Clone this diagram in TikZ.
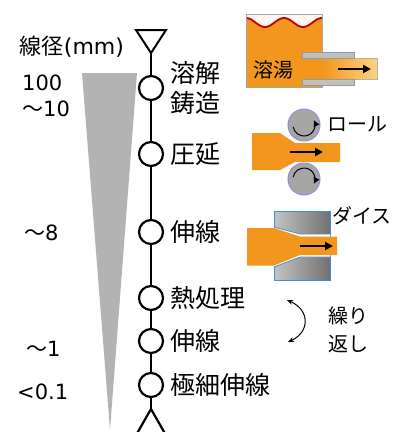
\documentclass[tikz,border=0pt]{standalone}
\usepackage{fontspec}
\setmainfont{DejaVu Sans}
\newfontfamily\cjk{Noto Sans CJK JP}
\usepackage{tikz}
\usetikzlibrary{arrows.meta, positioning, calc}
\tikzset{every node/.style={inner sep=1pt}}
\definecolor{melt}{HTML}{F2961E}
\definecolor{meltlight}{HTML}{FDD283}
\definecolor{wavered}{HTML}{C00000}
\definecolor{rollgray}{HTML}{A6A6A6}
\definecolor{rolledge}{HTML}{8F8FD6}
\definecolor{dieedge}{HTML}{3D8FD6}
\definecolor{dielight}{HTML}{C4C4C4}
\definecolor{diedark}{HTML}{717171}
\definecolor{wedgegray}{HTML}{B3B3B3}

\begin{document}
\begin{tikzpicture}[x=1pt, y=-1pt,
    mainline/.style={line width=2.2pt},
    stepdot/.style={circle, draw, line width=2.2pt, fill=white, minimum size=24pt, inner sep=0pt},
    steplabel/.style={font=\cjk\fontsize{25}{30}\selectfont, align=left},
    numlabel/.style={font=\fontsize{21}{26}\selectfont, align=left, anchor=west},
    smalltext/.style={font=\cjk\fontsize{20}{28}\selectfont, align=left},
    flow/.style={line width=2pt, -{Triangle[length=8pt, width=8pt]}},
    turn/.style={line width=1pt, -{Triangle[length=6pt, width=6pt]}},
    plate/.style={fill=gray!50, draw=gray!80, line width=0.6pt},
    roll/.style={circle, fill=rollgray, draw=rolledge, line width=1pt, minimum size=32pt, inner sep=0pt}]
  \useasboundingbox (0,0) rectangle (398,432);

  % diameter wedge
  \fill[wedgegray] (82,73) -- (137,73) -- (110,430) -- cycle;

  % process line
  \coordinate (apex) at (151,53);
  \draw[line width=2pt, line join=miter] (136,30) -- (166,30) -- (apex) -- cycle;
  \node[stepdot] (s1) at (151,88) {};
  \node[stepdot] (s2) at (151,154) {};
  \node[stepdot] (s3) at (151,232) {};
  \node[stepdot] (s4) at (151,298) {};
  \node[stepdot] (s5) at (151,341) {};
  \node[stepdot] (s6) at (151,385) {};
  \coordinate (split) at (151,409);
  \coordinate (legL) at (135,437);
  \coordinate (legR) at (167,437);
  \draw[mainline] (apex) -- (s1) -- (s2) -- (s3) -- (s4) -- (s5) -- (s6) -- (split);
  \draw[mainline] (legL) -- (split) -- (legR);

  \node[steplabel, right=5pt of s1] (l1) {溶解\\鋳造};
  \node[steplabel, right=5pt of s2] (l2) {圧延};
  \node[steplabel, right=5pt of s3] (l3) {伸線};
  \node[steplabel, right=5pt of s4] (l4) {熱処理};
  \node[steplabel, right=5pt of s5] (l5) {伸線};
  \node[steplabel, right=5pt of s6] (l6) {極細伸線};

  % diameters
  \node[font=\fontsize{22}{26}\selectfont] (dia) at (72,47) {{\cjk 線径}(mm)};
  \node[numlabel] (d1) at (21,96) {100\\{\cjk ～}10};
  \node[numlabel] (d2) at (23,233) {{\cjk ～}8};
  \node[numlabel] (d3) at (25,349) {{\cjk ～}1};
  \node[numlabel] (d4) at (16,392) {<0.1};

  % casting
  \fill[melt!8] (246,14) rectangle (322,28);
  \fill[melt] plot[domain=0:76, samples=60] ({246+\x}, {22.5-4.5*cos(\x*9.4737)})
    -- (322,87) -- (246,87) -- cycle;
  \draw[wavered, line width=1.8pt] plot[domain=0:76, samples=60] ({246+\x}, {22.5-4.5*cos(\x*9.4737)});
  \draw[gray!70, line width=0.8pt] (246,14) rectangle (322,87);
  \shade[left color=melt, right color=meltlight] (322,58) rectangle (377,79);
  \draw[gray!60, line width=0.6pt] (322,58) -- (377,58) -- (377,79) -- (322,79);
  \draw[plate] (302,52) rectangle (354,58);
  \draw[plate] (302,79) rectangle (354,85);
  \node[smalltext] (melttxt) at (273,70) {溶湯};
  \coordinate (pourA) at (338,69);
  \coordinate (pourB) at (371,69);
  \draw[flow] (pourA) -- (pourB);

  % rolling
  \fill[melt] (252,133) -- (280,133) -- (295,143) -- (340,143) -- (340,162)
    -- (295,162) -- (280,170) -- (252,170) -- cycle;
  \node[roll] (rollA) at (304,125) {};
  \node[roll] (rollB) at (304,179) {};
  \draw[turn] ($(rollA)+(170:11)$) arc[start angle=170, end angle=-25, radius=11];
  \draw[turn] ($(rollB)+(-170:11)$) arc[start angle=-170, end angle=25, radius=11];
  \coordinate (rollIn) at (290,152);
  \coordinate (rollOut) at (323,152);
  \draw[flow] (rollIn) -- (rollOut);
  \node[smalltext] (rolltxt) at (357,124) {ロール};

  % drawing die
  \shadedraw[left color=dielight, right color=diedark, draw=dieedge, line width=1pt]
    (274,211) rectangle (330,280);
  \fill[white] (274,227) -- (300,234) -- (330,234) -- (330,257) -- (300,257) -- (274,267) -- cycle;
  \draw[dieedge, line width=0.8pt] (274,227) -- (300,234) -- (330,234);
  \draw[dieedge, line width=0.8pt] (274,267) -- (300,257) -- (330,257);
  \fill[melt] (247,228) -- (274,228) -- (300,236.5) -- (337,236.5) -- (337,255)
    -- (300,255) -- (274,265.5) -- (247,265.5) -- cycle;
  \coordinate (dieIn) at (300,246);
  \coordinate (dieOut) at (333,246);
  \draw[flow] (dieIn) -- (dieOut);
  \node[smalltext] (dietxt) at (362,216) {ダイス};

  % repeat
  \coordinate (repA) at (287,300);
  \coordinate (repB) at (288,342);
  \draw[line width=1pt, {Stealth[length=6pt, width=5pt]}-{Stealth[length=6pt, width=5pt]}]
    (repA) .. controls (310,310) and (310,332) .. (repB);
  \node[smalltext, anchor=west] (reptxt) at (327,330) {繰り\\返し};
\end{tikzpicture}
\end{document}
